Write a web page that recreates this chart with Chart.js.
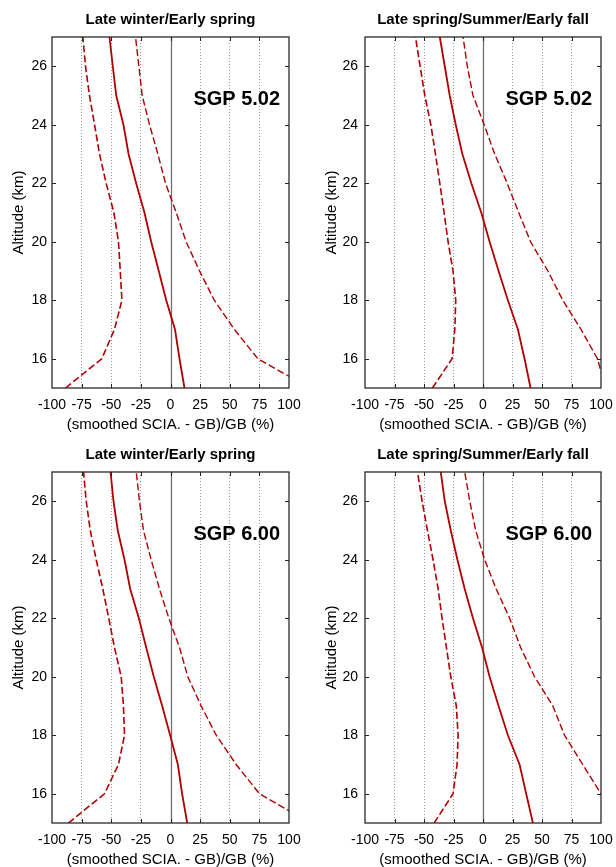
<!DOCTYPE html>
<html>
<head>
<meta charset="utf-8">
<script src="https://cdn.jsdelivr.net/npm/chart.js@4.4.1/dist/chart.umd.min.js"></script>
<style>
  html, body { margin: 0; padding: 0; background: #fff; overflow: hidden; }
  canvas { position: absolute; }
</style>
</head>
<body>
<canvas id="panel-tl" width="308" height="435" style="left:0;top:0"></canvas>
<canvas id="panel-tr" width="308" height="435" style="left:308px;top:0"></canvas>
<canvas id="panel-bl" width="308" height="435" style="left:0;top:435px"></canvas>
<canvas id="panel-br" width="308" height="435" style="left:308px;top:435px"></canvas>
<script>
// altitudes (km), bottom to top
const altitudes = [15, 16, 17, 18, 19, 20, 21, 22, 23, 24, 25, 26, 27];
const xTicks = [-100, -75, -50, -25, 0, 25, 50, 75, 100];
const yTicks = [16, 18, 20, 22, 24, 26];

// SGP 5.02 - late winter / early spring
const winter502Mean = [11.8, 7.6, 3.8, -3.6, -9.9, -16.3, -22.0, -29.0, -35.4, -39.7, -45.8, -48.7, -51.5];
const winter502Low  = [-88.6, -58.0, -47.3, -41.0, -42.4, -43.9, -47.8, -54.3, -59.9, -64.1, -68.4, -71.7, -74.0];
const winter502High = [117.5, 73.7, 54.0, 37.0, 24.5, 13.2, 4.8, -4.2, -10.7, -17.7, -23.9, -26.7, -29.5];

// SGP 5.02 - late spring / summer / early fall
const summer502Mean = [40.3, 35.2, 29.6, 21.1, 13.2, 5.6, -1.5, -9.9, -17.5, -23.1, -28.2, -32.4, -36.6];
const summer502Low  = [-42.9, -26.2, -23.9, -23.1, -25.4, -29.6, -33.0, -36.6, -40.3, -44.2, -49.3, -53.3, -57.2];
const summer502High = [104.0, 97.0, 83.1, 67.6, 55.0, 40.3, 30.2, 20.5, 9.9, 1.0, -8.5, -13.3, -16.9];

// SGP 6.00 - late winter / early spring
const winter600Mean = [14.1, 9.8, 6.2, -0.3, -7.0, -14.1, -20.5, -26.7, -34.0, -38.8, -44.5, -48.1, -50.6];
const winter600Low  = [-86.1, -55.7, -43.9, -38.8, -39.7, -41.6, -47.3, -52.1, -57.1, -62.7, -67.7, -71.1, -73.4];
const winter600High = [118.0, 75.1, 55.4, 38.6, 25.9, 14.6, 7.6, -1.4, -9.3, -16.3, -22.8, -26.2, -28.9];

// SGP 6.00 - late spring / summer / early fall
const summer600Mean = [42.3, 36.6, 31.0, 21.1, 13.2, 5.6, -0.8, -8.5, -15.5, -21.7, -27.3, -32.4, -35.8];
const summer600Low  = [-41.4, -25.4, -22.0, -21.1, -22.6, -27.3, -31.0, -34.7, -38.0, -42.3, -47.1, -51.6, -55.5];
const summer600High = [130.0, 100.0, 84.5, 69.1, 59.2, 43.7, 31.9, 22.6, 11.2, 1.4, -6.2, -11.2, -15.5];

const FONT = "'Liberation Sans', Arial, Helvetica, sans-serif";
const RED = '#b00000';

function toPoints(values) {
    return values.map((v, i) => ({ x: v, y: altitudes[i] }));
}

/* -------- frame, zero line, inward ticks and version label -------- */
const panelDecor = {
    id: 'panelDecor',
    beforeDatasetsDraw(chart) {
        const { ctx, chartArea: a, scales: { x } } = chart;
        const x0 = Math.round(x.getPixelForValue(0)) + 0.5;
        ctx.save();
        ctx.strokeStyle = '#707070';
        ctx.lineWidth = 1.3;
        ctx.beginPath();
        ctx.moveTo(x0, a.top);
        ctx.lineTo(x0, a.bottom);
        ctx.stroke();
        ctx.restore();
    },
    afterDatasetsDraw(chart, args, opts) {
        const { ctx, chartArea: a, scales: { x, y } } = chart;
        ctx.save();
        // ticks pointing inward on all four sides
        ctx.strokeStyle = '#222';
        ctx.lineWidth = 1;
        ctx.beginPath();
        yTicks.forEach(v => {
            const py = Math.round(y.getPixelForValue(v)) + 0.5;
            ctx.moveTo(a.left, py); ctx.lineTo(a.left + 4, py);
            ctx.moveTo(a.right - 4, py); ctx.lineTo(a.right, py);
        });
        xTicks.slice(1, -1).forEach(v => {
            const px = Math.round(x.getPixelForValue(v)) + 0.5;
            ctx.moveTo(px, a.bottom); ctx.lineTo(px, a.bottom - 4);
            ctx.moveTo(px, a.top); ctx.lineTo(px, a.top + 4);
        });
        ctx.stroke();
        // box
        ctx.lineWidth = 1.3;
        ctx.strokeStyle = '#2a2a2a';
        ctx.strokeRect(a.left, a.top, a.right - a.left, a.bottom - a.top);
        // version label
        ctx.fillStyle = '#000';
        ctx.font = 'bold 20px ' + FONT;
        ctx.textAlign = 'right';
        ctx.textBaseline = 'middle';
        ctx.fillText(opts.label, x.getPixelForValue(92.5), y.getPixelForValue(24.87));
        ctx.restore();
    }
};

function buildPanel(id, cfg) {
    const ctx = document.getElementById(id).getContext('2d');
    return new Chart(ctx, {
        type: 'line',
        data: {
            datasets: [
                { data: toPoints(cfg.high), borderColor: RED, borderWidth: 1.4, borderDash: [7, 3] },
                { data: toPoints(cfg.low), borderColor: RED, borderWidth: 1.6, borderDash: [7, 3] },
                { data: toPoints(cfg.mean), borderColor: RED, borderWidth: 1.8 }
            ]
        },
        options: {
            responsive: false,
            animation: false,
            indexAxis: 'y',
            layout: { padding: { left: 0, right: cfg.padRight, top: 0, bottom: 0 } },
            elements: { point: { radius: 0 }, line: { tension: 0 } },
            plugins: {
                legend: { display: false },
                tooltip: { enabled: false },
                title: {
                    display: true,
                    text: cfg.title,
                    fullSize: false,
                    color: '#000',
                    font: { family: FONT, size: 15, weight: 'bold' },
                    padding: { top: 11, bottom: 8 }
                },
                panelDecor: { label: cfg.label }
            },
            scales: {
                x: {
                    type: 'linear',
                    min: -100,
                    max: 100,
                    afterBuildTicks: s => { s.ticks = xTicks.map(v => ({ value: v })); },
                    afterFit: s => { s.height = 47; },
                    // padding 0 so the end labels do not squeeze the plot; the tall
                    // line height pushes the labels down instead
                    ticks: {
                        autoSkip: false, maxRotation: 0, minRotation: 0, padding: 0,
                        color: '#000', font: { family: FONT, size: 14, lineHeight: '35px' }
                    },
                    grid: {
                        drawTicks: false,
                        lineWidth: 1,
                        color: c => (c.tick && Math.abs(c.tick.value) % 100 !== 0) ? '#9a9a9a' : 'rgba(0,0,0,0)'
                    },
                    border: { display: false, dash: [1, 2] },
                    title: {
                        display: true,
                        text: '(smoothed SCIA. - GB)/GB (%)',
                        color: '#000',
                        font: { family: FONT, size: 15 },
                        padding: { top: 0, bottom: 1 }
                    }
                },
                y: {
                    type: 'linear',
                    min: 15,
                    max: 27,
                    afterBuildTicks: s => { s.ticks = yTicks.map(v => ({ value: v })); },
                    afterFit: s => { s.width = cfg.axisWidth; },
                    ticks: { padding: cfg.tickPad, color: '#000', font: { family: FONT, size: 14 } },
                    grid: { display: false, drawTicks: false },
                    border: { display: false },
                    title: {
                        display: true,
                        text: 'Altitude (km)',
                        color: '#000',
                        font: { family: FONT, size: 15 },
                        padding: { top: cfg.yTitlePad, bottom: 0 }
                    }
                }
            }
        },
        plugins: [panelDecor]
    });
}

const leftCol = { padRight: 19, axisWidth: 52, tickPad: 5, yTitlePad: 10 };
const rightCol = { padRight: 15, axisWidth: 57, tickPad: 7, yTitlePad: 14.5 };

buildPanel('panel-tl', Object.assign({ title: 'Late winter/Early spring', label: 'SGP 5.02',
    mean: winter502Mean, low: winter502Low, high: winter502High }, leftCol));
buildPanel('panel-tr', Object.assign({ title: 'Late spring/Summer/Early fall', label: 'SGP 5.02',
    mean: summer502Mean, low: summer502Low, high: summer502High }, rightCol));
buildPanel('panel-bl', Object.assign({ title: 'Late winter/Early spring', label: 'SGP 6.00',
    mean: winter600Mean, low: winter600Low, high: winter600High }, leftCol));
buildPanel('panel-br', Object.assign({ title: 'Late spring/Summer/Early fall', label: 'SGP 6.00',
    mean: summer600Mean, low: summer600Low, high: summer600High }, rightCol));
</script>
</body>
</html>
